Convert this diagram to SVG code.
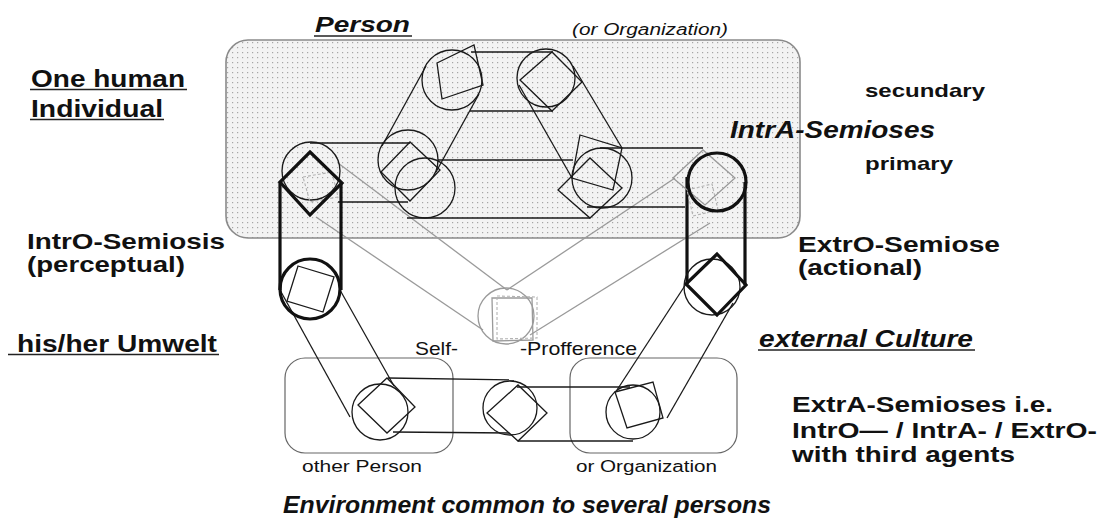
<svg xmlns="http://www.w3.org/2000/svg" width="1099" height="522" viewBox="0 0 1099 522">
<defs>
<pattern id="dots" width="5" height="5" patternUnits="userSpaceOnUse">
<rect width="5" height="5" fill="#f3f3f3"/>
<rect x="2" y="2" width="1.2" height="1.2" fill="#a6a6a6"/>
</pattern>
<style>
.t{font-family:"Liberation Sans",Arial,sans-serif;fill:#111}
.b{font-weight:bold}
.i{font-style:italic}
.ul{stroke:#222;stroke-width:1.6}
.thin{fill:none;stroke:#1a1a1a;stroke-width:1.3}
.thick{fill:none;stroke:#111;stroke-width:3.2}
.gray{fill:none;stroke:#9a9a9a;stroke-width:1.3}
.gdash{fill:none;stroke:#b3b3b3;stroke-width:1.1;stroke-dasharray:3 2}
.frame{fill:none;stroke:#666;stroke-width:1.2}
</style>
</defs>
<rect width="1099" height="522" fill="#fff"/>

<g id="person-box"><rect x="226" y="40" width="574" height="198" rx="22" fill="url(#dots)" stroke="#8a8a8a" stroke-width="1.6"/></g>
<g id="other-person-box"><rect class="frame" x="285" y="358" width="168" height="95" rx="20"/></g>
<g id="organization-box"><rect class="frame" x="570" y="358" width="167" height="95" rx="20"/></g>

<g id="connectors">
<line class="gray" x1="338" y1="163" x2="507" y2="290"/>
<line class="gray" x1="316" y1="217" x2="483" y2="330"/>
<line class="gray" x1="675" y1="178" x2="507" y2="290"/>
<line class="gray" x1="710" y1="223" x2="530" y2="335"/>
<line class="thin" x1="471" y1="52" x2="553" y2="52"/>
<line class="thin" x1="470" y1="111" x2="553" y2="111"/>
<line class="thin" x1="382" y1="146" x2="426" y2="66"/>
<line class="thin" x1="436" y1="172" x2="479" y2="94"/>
<line class="thin" x1="519" y1="85" x2="572" y2="178"/>
<line class="thin" x1="573" y1="66" x2="622" y2="148"/>
<line class="thin" x1="438" y1="160" x2="573" y2="160"/>
<line class="thin" x1="407" y1="218" x2="590" y2="218"/>
<line class="thin" x1="310" y1="143" x2="410" y2="143"/>
<line class="thin" x1="338" y1="202" x2="408" y2="202"/>
<line class="thin" x1="600" y1="148" x2="703" y2="148"/>
<line class="thin" x1="587" y1="207" x2="685" y2="207"/>
<line class="thick" x1="280" y1="182" x2="280" y2="290"/>
<line class="thick" x1="341" y1="183" x2="341" y2="290" stroke-width="2.6"/>
<line class="thick" x1="687" y1="177" x2="687" y2="284" stroke-width="2.6"/>
<line class="thick" x1="745" y1="182" x2="745" y2="285" stroke-width="2.6"/>
<line class="thin" x1="280" y1="290" x2="350" y2="417"/>
<line class="thin" x1="340" y1="290" x2="394" y2="386"/>
<line class="thin" x1="686" y1="284" x2="617" y2="390"/>
<line class="thin" x1="733" y1="303" x2="667" y2="418"/>
<line class="thin" x1="388" y1="378" x2="514" y2="380"/>
<line class="thin" x1="393" y1="432" x2="510" y2="433"/>
<line class="thin" x1="517" y1="387" x2="630" y2="387"/>
<line class="thin" x1="518" y1="441" x2="633" y2="441"/>
</g>

<g id="node-top-left">
<circle class="thin" cx="452" cy="80" r="30"/>
<polygon class="thin" points="437,63 474,45 483,85 442,99"/>
</g>
<g id="node-top-right">
<circle class="thin" cx="546" cy="78" r="29"/>
<polygon class="thin" points="520,80 552,52 582,82 552,111"/>
</g>
<g id="node-middle-left">
<circle class="thin" cx="408" cy="160" r="30"/>
<circle class="thin" cx="425" cy="188" r="30"/>
<polygon class="thin" points="381,172 410,142 440,170 410,201"/>
</g>
<g id="node-middle-right">
<circle class="thin" cx="602" cy="178" r="30"/>
<polygon class="thin" points="580,135 622,148 613,190 572,178"/>
<polygon class="thin" points="558,190 590,158 622,188 590,218"/>
</g>
<g id="node-left">
<circle class="thin" cx="311" cy="171" r="29"/>
<polygon class="gdash" points="303,177 332,172 338,197 310,202"/>
<polygon class="thick" points="310,152 342,183 310,215 280,182"/>
</g>
<g id="node-right">
<polygon class="gdash" points="687,190 712,184 718,210 693,216"/>
<polygon class="gray" points="673,178 703,150 735,178 705,205"/>
<circle class="thick" cx="717" cy="182" r="29"/>
</g>
<g id="node-perceptual">
<circle class="thick" cx="310" cy="289" r="30" stroke-width="3.6"/>
<polygon class="thin" points="298,266 334,277 323,312 287,301"/>
</g>
<g id="node-actional">
<circle class="thin" cx="712" cy="287" r="28"/>
<polygon class="thick" points="717,254 746,285 717,315 686,284"/>
</g>
<g id="node-self">
<circle class="gray" cx="506" cy="316" r="28"/>
<polygon class="gray" points="492,298 532,298 533,340 493,341"/>
<polygon class="gdash" points="497,296 537,297 537,338 497,339"/>
</g>
<g id="node-bottom-left">
<circle class="thin" cx="380" cy="412" r="28"/>
<polygon class="thin" points="358,405 387,378 415,407 387,433"/>
</g>
<g id="node-bottom-center">
<circle class="thin" cx="510" cy="408" r="27"/>
<polygon class="thin" points="487,413 518,385 547,413 518,441"/>
</g>
<g id="node-bottom-right">
<circle class="thin" cx="633" cy="412" r="27"/>
<polygon class="thin" points="615,392 653,382 663,418 627,428"/>
</g>

<g id="labels">
<text class="t b i" x="315" y="32" font-size="22" textLength="95" lengthAdjust="spacingAndGlyphs">Person</text>
<line class="ul" x1="314" y1="36" x2="412" y2="36"/>
<text class="t i" x="572" y="35" font-size="16" fill="#333" textLength="156" lengthAdjust="spacingAndGlyphs">(or Organization)</text>
<text class="t b" x="31" y="87" font-size="23" textLength="154" lengthAdjust="spacingAndGlyphs">One human</text>
<line class="ul" x1="30" y1="89.5" x2="187" y2="89.5"/>
<text class="t b" x="31" y="117" font-size="23" textLength="132" lengthAdjust="spacingAndGlyphs">Individual</text>
<line class="ul" x1="30" y1="119.5" x2="164" y2="119.5"/>
<text class="t b" x="27" y="249" font-size="22" textLength="198" lengthAdjust="spacingAndGlyphs">IntrO-Semiosis</text>
<text class="t b" x="27" y="272" font-size="22" textLength="158" lengthAdjust="spacingAndGlyphs">(perceptual)</text>
<text class="t b" x="17" y="352" font-size="23" textLength="200" lengthAdjust="spacingAndGlyphs">his/her Umwelt</text>
<line class="ul" x1="8" y1="354.5" x2="219" y2="354.5"/>
<text class="t b" x="865" y="97" font-size="19" textLength="120" lengthAdjust="spacingAndGlyphs">secundary</text>
<text class="t b i" x="730" y="138" font-size="23" textLength="205" lengthAdjust="spacingAndGlyphs">IntrA-Semioses</text>
<text class="t b" x="865" y="170" font-size="19" textLength="88" lengthAdjust="spacingAndGlyphs">primary</text>
<text class="t b" x="798" y="252" font-size="22" textLength="202" lengthAdjust="spacingAndGlyphs">ExtrO-Semiose</text>
<text class="t b" x="798" y="275" font-size="22" textLength="124" lengthAdjust="spacingAndGlyphs">(actional)</text>
<text class="t b i" x="759" y="347" font-size="23" textLength="214" lengthAdjust="spacingAndGlyphs">external Culture</text>
<line class="ul" x1="758" y1="350" x2="975" y2="350"/>
<text class="t b" x="792" y="412" font-size="22" textLength="261" lengthAdjust="spacingAndGlyphs">ExtrA-Semioses i.e.</text>
<text class="t b" x="792" y="438" font-size="22" textLength="305" lengthAdjust="spacingAndGlyphs">IntrO— / IntrA- / ExtrO-</text>
<text class="t b" x="792" y="462" font-size="22" textLength="223" lengthAdjust="spacingAndGlyphs">with third agents</text>
<text class="t" x="415" y="355" font-size="19" fill="#333" textLength="43" lengthAdjust="spacingAndGlyphs">Self-</text>
<text class="t" x="520" y="355" font-size="19" fill="#333" textLength="117" lengthAdjust="spacingAndGlyphs">-Profference</text>
<text class="t" x="302" y="472" font-size="16" fill="#333" textLength="120" lengthAdjust="spacingAndGlyphs">other Person</text>
<text class="t" x="576" y="472" font-size="16" fill="#333" textLength="141" lengthAdjust="spacingAndGlyphs">or Organization</text>
<text class="t b i" x="283" y="513" font-size="24" textLength="488" lengthAdjust="spacingAndGlyphs">Environment common to several persons</text>
</g>
</svg>
